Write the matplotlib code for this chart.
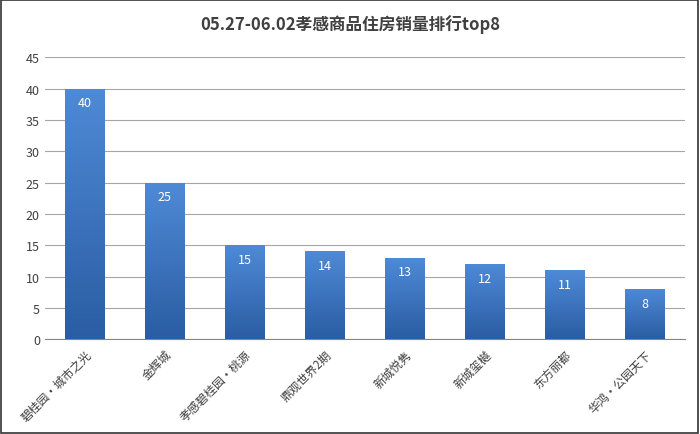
import numpy as np
import matplotlib.pyplot as plt
from matplotlib.patches import Rectangle

plt.rcParams['font.family'] = ['Noto Sans CJK SC', 'DejaVu Sans']

projects = ["碧桂园·城市之光", "金辉城", "孝感碧桂园·桃源", "鼎观世界2期",
            "新城悦隽", "新城玺樾", "东方丽都", "华鸿·公园天下"]
sales = [40, 25, 15, 14, 13, 12, 11, 8]

fig = plt.figure(figsize=(7, 4.35), dpi=100)
fig.patches.append(Rectangle((0.002, 0.003), 0.995, 0.994, transform=fig.transFigure,
                             fill=False, edgecolor="#333333", linewidth=1.2))
ax = fig.add_axes([0.064, 0.218, 0.914, 0.648])

x = np.arange(len(projects))
bars = ax.bar(x, sales, width=0.5, color="none", zorder=3)
grad = np.linspace(0, 1, 256).reshape(-1, 1)
cmap = plt.matplotlib.colors.LinearSegmentedColormap.from_list("b", ["#2a5da3", "#4f8ad6"])
for b in bars:
    im = ax.imshow(grad, cmap=cmap, origin="lower", aspect="auto", zorder=3,
                   extent=[b.get_x(), b.get_x() + b.get_width(), 0, b.get_height()])
    im.set_clip_path(b)
for xi, v in zip(x, sales):
    ax.text(xi, v - 1.2, str(v), ha="center", va="top", color="white", fontsize=9, zorder=4)

ax.set_xlim(-0.5, len(projects) - 0.5)
ax.set_ylim(0, 45)
ax.set_yticks(range(0, 46, 5))
ax.yaxis.grid(True, color="#a6a6a6", linewidth=0.8, zorder=0)
ax.set_axisbelow(True)
for s in ["top", "right", "left"]:
    ax.spines[s].set_visible(False)
ax.spines["bottom"].set_color("#868686")
ax.tick_params(axis="y", length=0, labelsize=9, colors="#404040")
ax.tick_params(axis="x", length=0, colors="#404040", pad=6)
ax.set_xticks(x)
ax.set_xticklabels(projects, rotation=45, ha="right", rotation_mode="anchor", fontsize=8.5)
fig.suptitle("05.27-06.02孝感商品住房销量排行top8", y=0.965, fontsize=12,
             fontweight="bold", color="#404040")

fig.savefig("out.png", dpi=100)
